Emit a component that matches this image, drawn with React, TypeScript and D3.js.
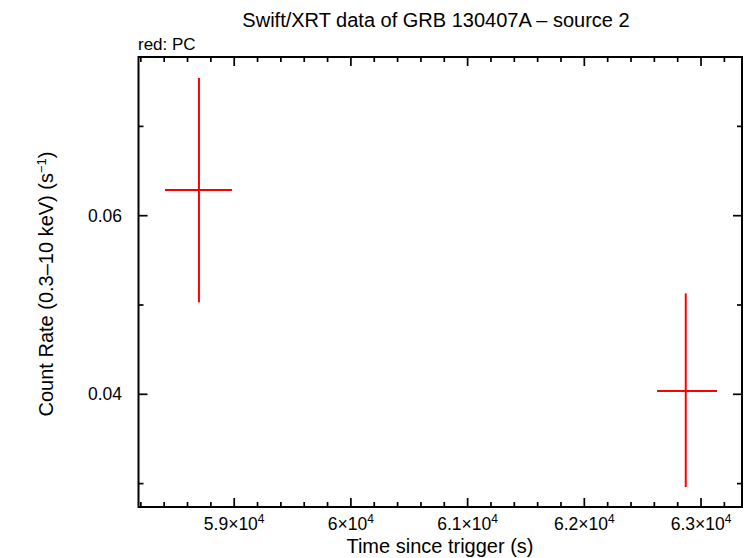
import * as d3 from "d3";

// PC mode points (time in s, rate in counts/s)
const times = [58698, 62869];
const timeLo = [58407, 62623];
const timeHi = [58981, 63137];
const rates = [0.06288, 0.04037];
const rateLo = [0.0503, 0.02962];
const rateHi = [0.07542, 0.0513];

const xMajor = [59000, 60000, 61000, 62000, 63000];
const xMajorLabels = ["5.9", "6", "6.1", "6.2", "6.3"];
const yMajor = [0.04, 0.06];
const yMajorLabels = ["0.04", "0.06"];

const width = 749;
const height = 558;
const margin = { top: 57, right: 7, bottom: 51, left: 138.5 };

export default function App() {
  const x = d3.scaleLinear()
    .domain([58180, 63351])
    .range([margin.left, width - margin.right]);
  const y = d3.scaleLinear()
    .domain([0.02738, 0.07777])
    .range([height - margin.bottom, margin.top]);

  const xMinor = d3.range(58200, 63351, 200).filter(t => t % 1000 !== 0);
  const yMinor = [0.03, 0.05, 0.07];

  const x0 = margin.left, x1 = width - margin.right;
  const y0 = margin.top, y1 = height - margin.bottom;
  const font = "Liberation Sans, Arial, Helvetica, sans-serif";

  return (
    <svg width={width} height={height} style={{ position: "absolute", left: 0, top: 0 }} fontFamily={font}>
      <rect width={width} height={height} fill="white" />

      <text x={436} y={27} textAnchor="middle" fontSize="20">Swift/XRT data of GRB 130407A – source 2</text>
      <text x={138} y={50} fontSize="17">red: PC</text>

      {/* frame */}
      <rect x={x0} y={y0} width={x1 - x0} height={y1 - y0} fill="none" stroke="black" strokeWidth={2} />

      {/* x ticks */}
      {xMajor.map(t => (
        <g key={t}>
          <line x1={x(t)} x2={x(t)} y1={y1} y2={y1 - 9} stroke="black" strokeWidth={1.7} />
          <line x1={x(t)} x2={x(t)} y1={y0} y2={y0 + 9} stroke="black" strokeWidth={1.7} />
        </g>
      ))}
      {xMinor.map(t => (
        <g key={t}>
          <line x1={x(t)} x2={x(t)} y1={y1} y2={y1 - 5} stroke="black" strokeWidth={1.7} />
          <line x1={x(t)} x2={x(t)} y1={y0} y2={y0 + 5} stroke="black" strokeWidth={1.7} />
        </g>
      ))}
      {xMajor.map((t, i) => (
        <text key={t} x={x(t)} y={530} textAnchor="middle" fontSize="17.5">
          {xMajorLabels[i]}×10<tspan dy={-7} fontSize="12">4</tspan>
        </text>
      ))}

      {/* y ticks */}
      {yMajor.map(t => (
        <g key={t}>
          <line x1={x0} x2={x0 + 9} y1={y(t)} y2={y(t)} stroke="black" strokeWidth={1.7} />
          <line x1={x1} x2={x1 - 9} y1={y(t)} y2={y(t)} stroke="black" strokeWidth={1.7} />
        </g>
      ))}
      {yMinor.map(t => (
        <g key={t}>
          <line x1={x0} x2={x0 + 5} y1={y(t)} y2={y(t)} stroke="black" strokeWidth={1.7} />
          <line x1={x1} x2={x1 - 5} y1={y(t)} y2={y(t)} stroke="black" strokeWidth={1.7} />
        </g>
      ))}
      {yMajor.map((t, i) => (
        <text key={t} x={122} y={y(t) + 6} textAnchor="end" fontSize="17.5">{yMajorLabels[i]}</text>
      ))}

      {/* axis titles */}
      <text x={440} y={553} textAnchor="middle" fontSize="20">Time since trigger (s)</text>
      <text transform={`translate(53,284) rotate(-90)`} textAnchor="middle" fontSize="20">
        Count Rate (0.3–10 keV) (s<tspan dy={-7} fontSize="13">−1</tspan><tspan dy={7}>)</tspan>
      </text>

      {/* data */}
      {times.map((t, i) => (
        <g key={t} stroke="#ff0000" strokeWidth={2}>
          <line x1={x(timeLo[i])} x2={x(timeHi[i])} y1={y(rates[i])} y2={y(rates[i])} />
          <line x1={x(t)} x2={x(t)} y1={y(rateLo[i])} y2={y(rateHi[i])} />
        </g>
      ))}
    </svg>
  );
}
